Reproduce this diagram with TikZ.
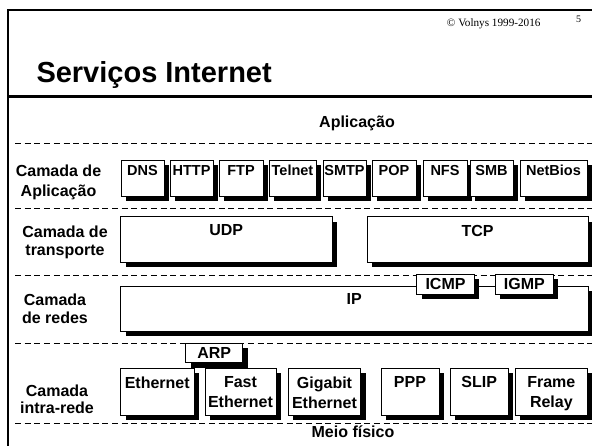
\documentclass[tikz,border=0pt]{standalone}
\usepackage{fontspec}
\setmainfont{Liberation Sans}
\newfontfamily\seriffont{Liberation Serif}
\usetikzlibrary{shadows}
\begin{document}
\begin{tikzpicture}[x=1pt,y=-1pt,
  box/.style={draw=black, line width=0.9pt, fill=white, rectangle, inner sep=0pt, outer sep=0pt,
    anchor=north west, drop shadow={shadow xshift=5pt, shadow yshift=-5pt, fill=black, opacity=1}},
  txt/.style={inner sep=0pt, outer sep=0pt},
  bigfont/.style={font=\fontsize{16}{18}\selectfont\bfseries},
  lab/.style={anchor=north, inner sep=0pt, align=center, yshift=-8pt, font=\fontsize{16}{20}\selectfont\bfseries},
  applab/.style={anchor=north, inner sep=0pt, align=center, yshift=-5pt, font=\fontsize{14.5}{16}\selectfont\bfseries},
  dashline/.style={line width=0.8pt, dash pattern=on 6pt off 3.7pt},
  layerlab/.style={txt, anchor=north, align=center}
]
\useasboundingbox (0,0) rectangle (592,446);

% frame
\draw[line width=1.8pt] (8,446) -- (8,10) -- (592,10);
\draw[line width=3pt] (8,97) -- (592,97);

% header texts
\node[txt, anchor=base west, font=\fontsize{29}{32}\selectfont\bfseries] (title) at (36.5,83) {Serviços Internet};
\node[txt, anchor=base east, font=\seriffont\fontsize{11.2}{13}\selectfont] (copy) at (540.5,26.7) {© Volnys 1999-2016};
\node[txt, anchor=base west, font=\seriffont\fontsize{10}{12}\selectfont] (page) at (576,22.3) {5};
\node[txt, anchor=base, bigfont] (aplic) at (357,128) {Aplicação};
\node[txt, anchor=base, bigfont] (meio) at (353,437) {Meio físico};

% dashed separators
\draw[dashline] (15,143) -- (592,143);
\draw[dashline] (15,208) -- (592,208);
\draw[dashline] (15,275) -- (592,275);
\draw[dashline] (15,343) -- (592,343);
\draw[dashline] (15,423) -- (592,423);

% layer labels
\node[layerlab, font=\fontsize{16}{20}\selectfont\bfseries] (lapp) at (58.5,164.5) {Camada de\\Aplicação};
\node[layerlab, font=\fontsize{16}{18}\selectfont\bfseries] (ltra) at (65,226) {Camada de\\transporte};
\node[layerlab, font=\fontsize{16}{17.6}\selectfont\bfseries] (lred) at (55,294) {Camada\\de redes};
\node[layerlab, font=\fontsize{16}{16.8}\selectfont\bfseries] (lint) at (57,385) {Camada\\intra-rede};

% application layer
\node[box, minimum width=43pt, minimum height=36.5pt, label={[applab]north:DNS}] (dns) at (121,160) {};
\node[box, minimum width=43pt, minimum height=36.5pt, label={[applab]north:HTTP}] (http) at (170,160) {};
\node[box, minimum width=44pt, minimum height=36.5pt, label={[applab]north:FTP}] (ftp) at (219,160) {};
\node[box, minimum width=47pt, minimum height=36.5pt, label={[applab]north:Telnet}] (telnet) at (269,160) {};
\node[box, minimum width=43pt, minimum height=36.5pt, label={[applab]north:SMTP}] (smtp) at (323,160) {};
\node[box, minimum width=44pt, minimum height=36.5pt, label={[applab]north:POP}] (pop) at (372,160) {};
\node[box, minimum width=44pt, minimum height=36.5pt, label={[applab]north:NFS}] (nfs) at (423,160) {};
\node[box, minimum width=43pt, minimum height=36.5pt, label={[applab]north:SMB}] (smb) at (470,160) {};
\node[box, minimum width=67pt, minimum height=36.5pt, label={[applab]north:NetBios}] (netbios) at (520,160) {};

% transport layer
\node[box, minimum width=211.5pt, minimum height=45.3pt, label={[lab]north:UDP}] (udp) at (120.5,216.7) {};
\node[box, minimum width=221pt, minimum height=45.3pt, label={[lab]north:TCP}] (tcp) at (367,216.7) {};

% network layer
\node[box, minimum width=467.5pt, minimum height=45pt, label={[lab, yshift=1pt]north:IP}] (ip) at (120.5,286) {};
\node[box, minimum width=57.6pt, minimum height=20pt, bigfont] (icmp) at (416.7,274) {ICMP};
\node[box, minimum width=58pt, minimum height=20pt, bigfont] (igmp) at (495.3,274) {IGMP};

% intra-network layer
\node[box, minimum width=57pt, minimum height=19.4pt, bigfont] (arp) at (185.7,343.3) {ARP};
\node[box, minimum width=73.5pt, minimum height=46.5pt, label={[lab]north:Ethernet}] (eth) at (120.5,368.5) {};
\node[box, minimum width=71pt, minimum height=46.5pt, label={[lab]north:{Fast\\Ethernet}}] (fast) at (205,368.5) {};
\node[box, minimum width=72.4pt, minimum height=46.5pt, label={[lab]north:{Gigabit\\Ethernet}}] (gig) at (288.3,368.5) {};
\node[box, minimum width=58pt, minimum height=46.5pt, label={[lab]north:PPP}] (ppp) at (381,368.5) {};
\node[box, minimum width=58.3pt, minimum height=46.5pt, label={[lab]north:SLIP}] (slip) at (450,368.5) {};
\node[box, minimum width=72.7pt, minimum height=46.5pt, label={[lab]north:{Frame\\Relay}}] (fr) at (515,368.5) {};
\end{tikzpicture}
\end{document}
